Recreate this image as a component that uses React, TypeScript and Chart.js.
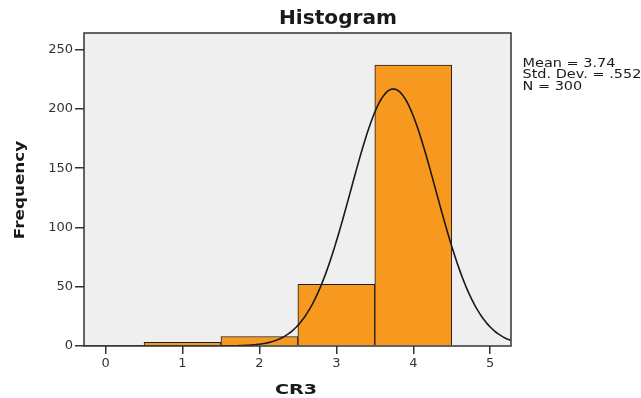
import React, { useEffect, useRef } from "react";
import { Chart, registerables } from "chart.js";

Chart.register(...registerables);

// Histogram bins of CR3 (bin width 1, centred on the integer scores)
const BIN_CENTERS = [1, 2, 3, 4];
const FREQUENCIES = [3, 8, 52, 237];

// Summary statistics shown beside the plot and used for the fitted normal curve
const MEAN = 3.74;
const STD_DEV = 0.552;
const N = 300;
const BIN_WIDTH = 1;

const X_TICKS = [0, 1, 2, 3, 4, 5];
const Y_TICKS = [0, 50, 100, 150, 200, 250];
const X_MIN = -0.28;
const X_MAX = 5.27;
const Y_MAX = 264;

const TITLE = "Histogram";
const X_TITLE = "CR3";
const Y_TITLE = "Frequency";
const STAT_LINES = [
  `Mean = ${MEAN}`,
  `Std. Dev. = ${String(STD_DEV).replace(/^0/, "")}`,
  `N = ${N}`,
];

const BAR_FILL = "#f7991f";
const PLOT_BG = "#efefef";
const INK = "#1a1a1a";

// Normal density scaled to frequency counts
function normalCurve() {
  const pts: { x: number; y: number }[] = [];
  const step = 0.02;
  for (let x = X_MIN; x <= X_MAX + 1e-9; x += step) {
    const z = (x - MEAN) / STD_DEV;
    const y = (N * BIN_WIDTH * Math.exp(-0.5 * z * z)) / (STD_DEV * Math.sqrt(2 * Math.PI));
    pts.push({ x, y });
  }
  return pts;
}

function drawText(
  ctx: CanvasRenderingContext2D,
  text: string,
  x: number,
  y: number,
  font: string,
  sx: number,
  align: CanvasTextAlign,
  rotate = 0
) {
  ctx.save();
  ctx.translate(x, y);
  if (rotate) ctx.rotate(rotate);
  ctx.scale(sx, 1);
  ctx.font = font;
  ctx.fillStyle = INK;
  ctx.textAlign = align;
  ctx.textBaseline = "alphabetic";
  ctx.fillText(text, 0, 0);
  ctx.restore();
}

const framePlugin = {
  id: "spssFrame",
  beforeDatasetsDraw(chart: any) {
    const { ctx, chartArea: a } = chart;
    ctx.save();
    ctx.fillStyle = PLOT_BG;
    ctx.fillRect(a.left, a.top, a.right - a.left, a.bottom - a.top);
    ctx.restore();
  },
  afterDatasetsDraw(chart: any) {
    const { ctx, chartArea: a } = chart;
    ctx.save();
    ctx.strokeStyle = "#333";
    ctx.lineWidth = 1.5;
    ctx.strokeRect(a.left, a.top, a.right - a.left, a.bottom - a.top);
    ctx.restore();
  },
  afterDraw(chart: any) {
    const { ctx } = chart;
    drawText(ctx, TITLE, 338, 24, 'bold 19px "DejaVu Sans"', 1.06, "center");
    drawText(ctx, X_TITLE, 296, 394, 'bold 14px "DejaVu Sans"', 1.37, "center");
    drawText(ctx, Y_TITLE, 23.5, 190, 'bold 14.5px "DejaVu Sans"', 1.16, "center", -Math.PI / 2);
    STAT_LINES.forEach((line, i) => {
      drawText(ctx, line, 522.5, 66.5 + i * 11.8, '11.4px "DejaVu Sans"', 1.27, "left");
    });
  },
};

export default function App() {
  const canvasRef = useRef<HTMLCanvasElement | null>(null);

  useEffect(() => {
    const canvas = canvasRef.current;
    if (!canvas) return;
    const tickFont = { family: '"DejaVu Sans"', size: 13 };
    const chart = new Chart(canvas, {
      type: "bar",
      data: {
        datasets: [
          {
            type: "line",
            data: normalCurve(),
            borderColor: INK,
            borderWidth: 1.6,
            pointRadius: 0,
            tension: 0,
            fill: false,
            order: 0,
          } as any,
          {
            type: "bar",
            data: BIN_CENTERS.map((x, i) => ({ x, y: FREQUENCIES[i] })),
            backgroundColor: BAR_FILL,
            borderColor: "#1e1e1e",
            borderWidth: 1,
            barPercentage: 1,
            categoryPercentage: 1,
            order: 1,
          } as any,
        ],
      },
      options: {
        animation: false,
        responsive: false,
        devicePixelRatio: 1,
        layout: { padding: { top: 33, right: 130, left: 0, bottom: 0 } },
        plugins: {
          legend: { display: false },
          tooltip: { enabled: false },
          title: { display: false },
        },
        scales: {
          x: {
            type: "linear",
            min: X_MIN,
            max: X_MAX,
            offset: false,
            grid: {
              offset: false,
              drawOnChartArea: false,
              drawTicks: true,
              tickLength: 8,
              color: "#333",
              lineWidth: 1.5,
            },
            border: { display: false },
            ticks: {
              font: tickFont,
              color: "#333",
              padding: 2,
              includeBounds: false,
            },
            afterBuildTicks: (s: any) => {
              s.ticks = X_TICKS.map((value) => ({ value }));
            },
            afterFit: (s: any) => {
              s.height = 52;
            },
          },
          y: {
            type: "linear",
            min: 0,
            max: Y_MAX,
            grid: {
              drawOnChartArea: false,
              drawTicks: true,
              tickLength: 9,
              color: "#333",
              lineWidth: 1.5,
            },
            border: { display: false },
            ticks: {
              font: tickFont,
              color: "#333",
              padding: 2,
              includeBounds: false,
            },
            afterBuildTicks: (s: any) => {
              s.ticks = Y_TICKS.map((value) => ({ value }));
            },
            afterFit: (s: any) => {
              s.width = 84;
            },
          },
        },
      },
      plugins: [framePlugin],
    });
    return () => chart.destroy();
  }, []);

  return (
    <div style={{ position: "absolute", left: 0, top: 0, width: 641, height: 398, background: "#fff" }}>
      <canvas ref={canvasRef} width={641} height={398} style={{ display: "block" }} />
    </div>
  );
}
